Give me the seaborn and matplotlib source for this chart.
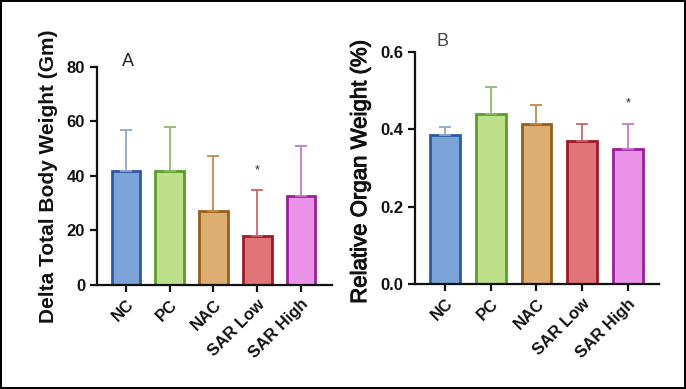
import seaborn as sns
import matplotlib.pyplot as plt
import matplotlib.patheffects as pe
import numpy as np

# Groups and colours
groups = ["NC", "PC", "NAC", "SAR Low", "SAR High"]
fill_colors = ["#7BA3D8", "#BEE08A", "#DDAD72", "#E07478", "#EB93E8"]
edge_colors = ["#2E5AA0", "#5A9E2A", "#94601A", "#A01A25", "#9A1E9A"]
err_colors = ["#8FA8CC", "#8DB86B", "#C08A4A", "#C8646C", "#C87AC8"]

# Panel A: delta total body weight (mean, upper SD)
body_mean = [42, 42, 27, 18, 32.5]
body_sd = [15, 16, 20.5, 17, 18.5]
body_star = {"SAR Low": 42}

# Panel B: relative organ weight (mean, upper SD)
organ_mean = [0.385, 0.440, 0.413, 0.370, 0.348]
organ_sd = [0.020, 0.070, 0.050, 0.043, 0.065]
organ_star = {"SAR High": 0.468}

sns.set_style("ticks")
plt.rcParams['font.family'] = ['Liberation Sans', 'DejaVu Sans']

fig = plt.figure(figsize=(6.86, 3.89), dpi=100)
fig.patch.set_edgecolor("black")
fig.patch.set_linewidth(1.5)

ax1 = fig.add_axes([0.1414, 0.2674, 0.3426, 0.5604])
ax2 = fig.add_axes([0.605, 0.2699, 0.3556, 0.5964])


def draw_panel(ax, means, sds, stars, ylim, yticks, xlim, width):
    sns.barplot(x=groups, y=means, hue=groups, palette=fill_colors, legend=False,
                width=width, errorbar=None, saturation=1, ax=ax)
    for patch, ec in zip(ax.patches, edge_colors):
        patch.set_edgecolor(ec)
        patch.set_linewidth(2.0)
    for i, (m, s) in enumerate(zip(means, sds)):
        ax.errorbar(i, m, yerr=[[0], [s]], fmt="none", ecolor=err_colors[i],
                    elinewidth=1.3, capsize=4, capthick=1.3, zorder=1)
    for g, y in stars.items():
        ax.text(groups.index(g), y, "*", ha="center", va="center", fontsize=9)
    ax.set_ylim(*ylim)
    ax.set_yticks(yticks)
    ax.set_xlim(*xlim)
    sns.despine(ax=ax)
    for sp in ["left", "bottom"]:
        ax.spines[sp].set_linewidth(1.6)
        ax.spines[sp].set_color("#111111")
    ax.tick_params(width=1.6, length=5, color="#111111", labelsize=12,
                   labelcolor="#111111")
    for lab in ax.get_xticklabels() + ax.get_yticklabels():
        lab.set_fontweight("bold")
    plt.setp(ax.get_xticklabels(), rotation=45, ha="right", rotation_mode="anchor")


draw_panel(ax1, body_mean, body_sd, body_star, (0, 80), [0, 20, 40, 60, 80],
           (-0.663, 4.71), 0.66)
draw_panel(ax2, organ_mean, organ_sd, organ_star, (0, 0.6), [0.0, 0.2, 0.4, 0.6],
           (-0.656, 4.68), 0.65)
ax2.set_yticklabels(["0.0", "0.2", "0.4", "0.6"], fontweight="bold")

ax1.set_ylabel("Delta Total Body Weight (Gm)", fontsize=15, fontweight="bold",
               color="#111111")
lab2 = ax2.set_ylabel("Relative Organ Weight (%)", fontsize=16, color="#111111")
lab2.set_path_effects([pe.withStroke(linewidth=0.7, foreground="#111111")])
ax1.yaxis.set_label_coords(-0.168, 0.5)
ax2.yaxis.set_label_coords(-0.18, 0.485)

fig.text(128 / 686, 1 - 62 / 389, "A", fontsize=13, ha="center", va="center")
fig.text(443 / 686, 1 - 42 / 389, "B", fontsize=13, ha="center", va="center",
         color="#444444")

fig.savefig("out.png", dpi=100)
